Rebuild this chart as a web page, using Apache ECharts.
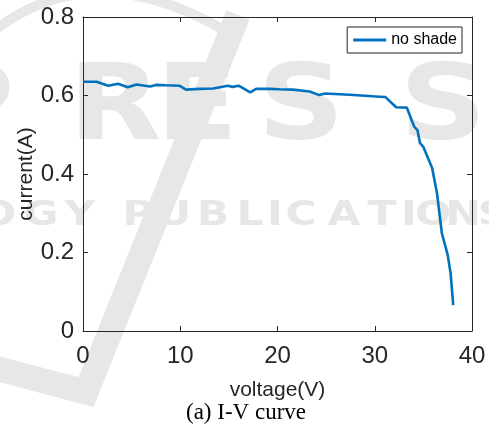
<!DOCTYPE html>
<html>
<head>
<meta charset="utf-8">
<script src="https://cdn.jsdelivr.net/npm/echarts@6/dist/echarts.min.js"></script>
<style>
html, body { margin: 0; padding: 0; background: #fff; }
#iv-curve { width: 489px; height: 426px; }
</style>
</head>
<body>
<div id="iv-curve"></div>
<script>
// I-V curve, no shade
var voltage = [0, 1.4, 2.6, 3.6, 4.6, 5.5, 6.9, 7.5, 8.5, 9.9, 10.6, 12.0, 13.4, 14.9, 15.4, 16.0,
  17.2, 17.8, 19.2, 20.2, 21.6, 23.3, 24.3, 24.9, 27.4, 29.8, 30.5, 31.1, 32.2, 33.3, 34.05,
  34.4, 34.65, 35.0, 35.9, 36.4, 36.9, 37.5, 37.8, 38.07];
var current = [0.635, 0.635, 0.625, 0.630, 0.621, 0.628, 0.623, 0.627, 0.626, 0.625, 0.615, 0.617,
  0.618, 0.625, 0.622, 0.625, 0.608, 0.617, 0.617, 0.616, 0.615, 0.610, 0.601, 0.605, 0.602,
  0.598, 0.597, 0.596, 0.570, 0.569, 0.521, 0.511, 0.479, 0.469, 0.415, 0.351, 0.249, 0.194,
  0.147, 0.066];
var seriesName = "no shade";
var xRange = [0, 40];
var yRange = [0, 0.8];
var caption = "(a) I-V curve";

var axisColor = "#262626";
var wmColor = "#e7e7e7";

// background watermark letters: [char, centre x]
function wmLetters(list, y, size, sx) {
  return list.map(function (p) {
    return {
      type: "text", z: -5, silent: true,
      x: p[1], y: y, scaleX: sx,
      style: {
        text: p[0], x: 0, y: 0, fill: wmColor,
        fontSize: size, fontWeight: "bold", fontFamily: "DejaVu Sans",
        align: "center", verticalAlign: "middle"
      }
    };
  });
}

var watermark = [
  {
    type: "polyline", z: -6, silent: true,
    shape: { points: [[-5, 368], [86, 392], [238, 15]] },
    style: { stroke: wmColor, lineWidth: 25, fill: null }
  },
  {
    type: "bezierCurve", z: -6, silent: true,
    shape: { x1: -5, y1: 30, cpx1: 100, cpy1: -50, x2: 240, y2: 40 },
    style: { stroke: wmColor, lineWidth: 10, fill: null }
  }
].concat(wmLetters([["P", -30], ["R", 115], ["E", 197], ["S", 301], ["S", 443]], 112, 105, 1.15))
 .concat(wmLetters([["O", -2], ["G", 41], ["Y", 80], ["P", 138], ["U", 174], ["B", 213],
   ["L", 250], ["I", 275], ["C", 301], ["A", 344], ["T", 382], ["I", 409], ["O", 433],
   ["N", 463], ["S", 493]], 216, 34, 1.25));

var myChart = echarts.init(document.getElementById("iv-curve"));

function xAx(pos, showLabel) {
  return {
    type: "value", position: pos, min: xRange[0], max: xRange[1], interval: 10,
    axisLine: { show: true, onZero: false, lineStyle: { color: axisColor, width: 1 } },
    axisTick: { show: true, inside: true, length: 5, lineStyle: { color: axisColor } },
    axisLabel: {
      show: showLabel, fontSize: 24, color: axisColor, fontFamily: "Liberation Sans", margin: 13
    },
    splitLine: { show: false }
  };
}
function yAx(pos, showLabel) {
  return {
    type: "value", position: pos, min: yRange[0], max: yRange[1], interval: 0.2,
    axisLine: { show: true, onZero: false, lineStyle: { color: axisColor, width: 1 } },
    axisTick: { show: true, inside: true, length: 5, lineStyle: { color: axisColor } },
    axisLabel: {
      show: showLabel, fontSize: 24, color: axisColor, fontFamily: "Liberation Sans", margin: 9
    },
    splitLine: { show: false }
  };
}

var xBottom = xAx("bottom", true);
xBottom.name = "voltage(V)";
xBottom.nameLocation = "middle";
xBottom.nameGap = 49;
xBottom.nameTextStyle = { fontSize: 21, color: axisColor, fontFamily: "Liberation Sans" };

var yLeft = yAx("left", true);
yLeft.name = "current(A)";
yLeft.nameLocation = "middle";
yLeft.nameGap = 46;
yLeft.nameMoveOverlap = false;
yLeft.nameTextStyle = { fontSize: 21, color: axisColor, fontFamily: "Liberation Sans" };

var option = {
  backgroundColor: "#fff",
  animation: false,
  grid: { left: 83, top: 17, width: 389, height: 314, show: false },
  xAxis: [xBottom, xAx("top", false)],
  yAxis: [yLeft, yAx("right", false)],
  legend: {
    right: 27, top: 27,
    padding: [5, 5, 5, 6],
    itemWidth: 33, itemHeight: 3,
    backgroundColor: "#fff",
    borderColor: axisColor, borderWidth: 1,
    textStyle: { fontSize: 16, color: "#000", fontFamily: "Liberation Sans" },
    data: [{ name: seriesName, icon: "rect" }]
  },
  graphic: watermark.concat([
    {
      type: "text", z: 10,
      style: {
        text: caption, x: 246, y: 413, fill: "#000",
        fontSize: 23, fontFamily: "Liberation Serif",
        align: "center", verticalAlign: "middle"
      }
    }
  ]),
  series: [
    {
      name: seriesName,
      type: "line",
      xAxisIndex: 0, yAxisIndex: 0,
      symbol: "none",
      lineStyle: { color: "#0072BD", width: 2.6 },
      itemStyle: { color: "#0072BD" },
      data: voltage.map(function (v, i) { return [v, current[i]]; })
    }
  ]
};
myChart.setOption(option, true);
</script>
</body>
</html>
